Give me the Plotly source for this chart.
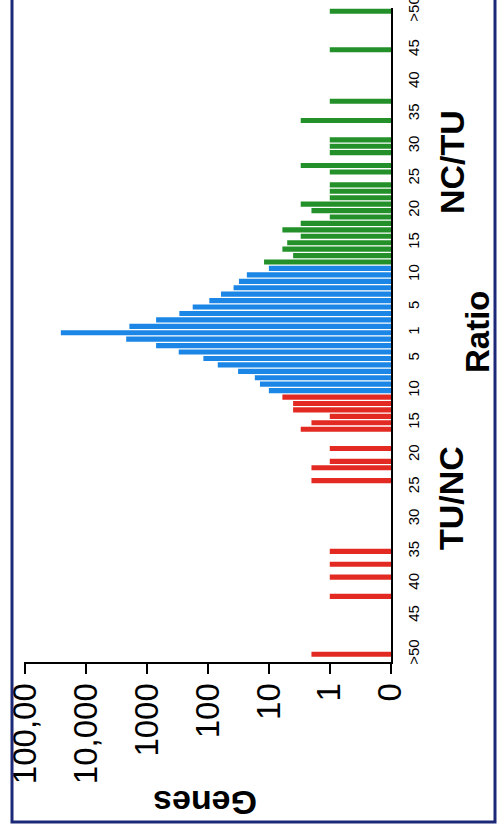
import plotly.graph_objects as go

# ---------------- data (ratio bins; 51 stands for ">50") ----------------
tu_nc_red_ratio = [11, 12, 13, 14, 15, 16, 19, 21, 22, 24, 35, 37, 39, 42, 51]
tu_nc_red_genes = [6, 4, 4, 1, 2, 3, 1, 1, 2, 2, 1, 1, 1, 1, 2]

tu_nc_blue_ratio = [2, 3, 4, 5, 6, 7, 8, 9, 10]
tu_nc_blue_genes = [2200, 710, 302, 119, 69, 32, 17, 14, 10]

equal_ratio = [1]
equal_genes = [26000]

nc_tu_blue_ratio = [2, 3, 4, 5, 6, 7, 8, 9, 10, 11]
nc_tu_blue_genes = [1950, 710, 295, 178, 95, 61, 38, 31, 23, 10]

nc_tu_green_ratio = [12, 13, 14, 15, 16, 17, 18, 19, 20, 21, 22, 23, 24,
                     26, 27, 29, 30, 31, 34, 37, 45, 51]
nc_tu_green_genes = [12, 4, 6, 5, 3, 6, 3, 1, 2, 3, 1, 1, 1,
                     1, 3, 1, 1, 1, 3, 1, 1, 1]

ratio_tick_values = [51, 45, 40, 35, 30, 25, 20, 15, 10, 5]
ratio_tick_labels = [">50", "45", "40", "35", "30", "25", "20", "15", "10", "5"]

gene_tick_values = [100000, 10000, 1000, 100, 10, 1, 0.1]
gene_tick_labels = ["100,00", "10,000", "1000", "100", "10", "1", "0"]

RED = "#e22a22"
BLUE = "#1b86e6"
GREEN = "#23902a"


def pos_tu(r):
    return -(r - 1)


def pos_nc(r):
    return r - 1


W, H = 497, 831
L, R, T, B = 24, 106, 8, 169
PW, PH = W - L - R, H - T - B


def px_x(x):
    return (x - L) / PW


def px_y(y):
    return (H - B - y) / PH


fig = go.Figure()


def add(ratios, genes, fn, color):
    fig.add_trace(go.Bar(
        x=genes, y=[fn(r) for r in ratios], orientation="h",
        marker=dict(color=color, line=dict(width=0)), width=0.8,
        showlegend=False))


add(tu_nc_red_ratio, tu_nc_red_genes, pos_tu, RED)
add(tu_nc_blue_ratio, tu_nc_blue_genes, pos_tu, BLUE)
add(equal_ratio, equal_genes, pos_nc, BLUE)
add(nc_tu_blue_ratio, nc_tu_blue_genes, pos_nc, BLUE)
add(nc_tu_green_ratio, nc_tu_green_genes, pos_nc, GREEN)

tickvals_y = [pos_tu(v) for v in ratio_tick_values] + [0] + \
             [pos_nc(v) for v in reversed(ratio_tick_values)]
ticktext_y = ratio_tick_labels + ["1"] + list(reversed(ratio_tick_labels))

FONT = "Liberation Sans, Arial, Helvetica, sans-serif"

fig.update_layout(
    width=W, height=H,
    margin=dict(l=L, r=R, t=T, b=B, pad=0),
    paper_bgcolor="white", plot_bgcolor="white",
    bargap=0.2,
    xaxis=dict(
        type="log", range=[5.02, -1.005], automargin=False,
        tickvals=gene_tick_values, ticktext=gene_tick_labels,
        tickangle=-90, tickfont=dict(family=FONT, size=33, color="black"),
        ticks="outside", ticklen=10, tickwidth=2, tickcolor="black",
        ticklabelstandoff=-4, ticklabeloverflow="allow",
        showline=True, linewidth=2, linecolor="black",
        showgrid=False, zeroline=False, fixedrange=True,
    ),
    yaxis=dict(
        range=[-51.2, 50.5], side="right", automargin=False,
        tickvals=tickvals_y, ticktext=ticktext_y,
        tickangle=-90, tickfont=dict(family=FONT, size=15, color="black"),
        ticks="", ticklabelstandoff=8, ticklabeloverflow="allow",
        showline=True, linewidth=2, linecolor="black",
        showgrid=False, zeroline=False, fixedrange=True,
    ),
)

# frame
fig.add_shape(type="rect", xref="paper", yref="paper",
              x0=px_x(12), x1=px_x(495), y0=px_y(822), y1=px_y(-20),
              line=dict(color="#1c2878", width=3), fillcolor="rgba(0,0,0,0)")

titles = [
    ("Genes", 205, 803, 180, 34),
    ("NC/TU", 452, 162, -90, 34),
    ("TU/NC", 451, 498, -90, 34),
    ("Ratio", 477, 331, -90, 33),
]
for txt, x, y, ang, sz in titles:
    fig.add_annotation(text="<b>%s</b>" % txt, xref="paper", yref="paper",
                       x=px_x(x), y=px_y(y), xanchor="center", yanchor="middle",
                       textangle=ang, showarrow=False,
                       font=dict(family=FONT, size=sz, color="black"))

fig.write_html("out.html")
